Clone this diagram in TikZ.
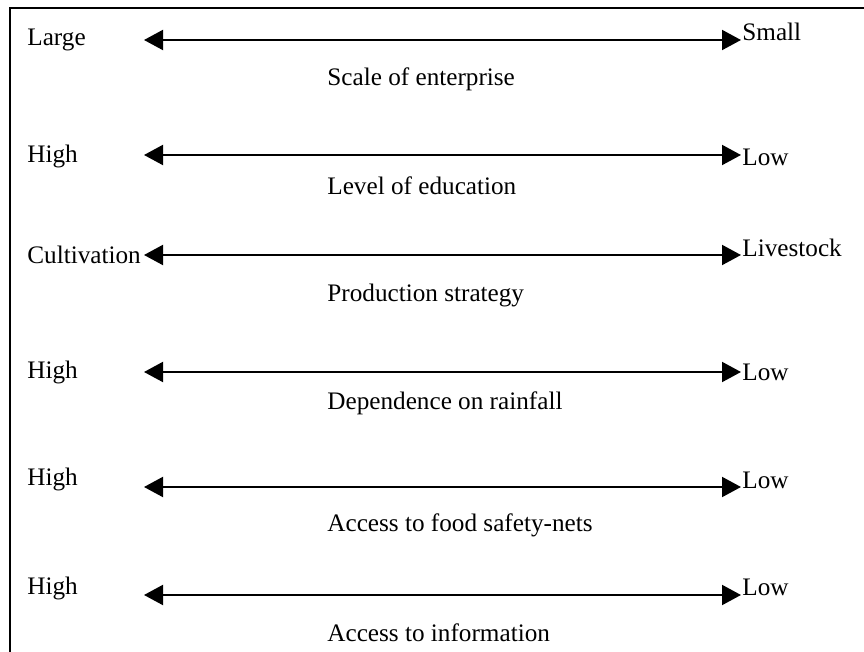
\documentclass[tikz,border=0pt]{standalone}
\usepackage{fontspec}
\setmainfont{Liberation Serif}
\usetikzlibrary{positioning,arrows.meta}

\begin{document}
\begin{tikzpicture}[x=0.5pt,y=-0.5pt]
    \tikzstyle{frame}=[line width=1.25pt]
    \tikzstyle{pole}=[inner sep=0pt,anchor=west,font=\fontsize{12.6}{15}\selectfont]
    \tikzstyle{factor}=[pole]
    \tikzstyle{edge}=[{Triangle[length=9.5pt,width=10pt]}-{Triangle[length=9.5pt,width=10pt]},line width=1pt]

    \useasboundingbox (0,0) rectangle (864,652);
    \draw[frame] (10,652) -- (10,8) -- (864,8);

    % scale of enterprise
    \node[pole] (large) at (27,40) {Large};
    \node[pole] (small) at (742,32) {Small};
    \coordinate (scaleL) at (144,40);
    \coordinate (scaleR) at (741,40);
    \draw[edge] (scaleL) -- (scaleR);
    \node[factor] (scale) at (327,79) {Scale of enterprise};

    % level of education
    \node[pole] (highEdu) at (27,156) {High};
    \node[pole] (lowEdu) at (742,157) {Low};
    \coordinate (eduL) at (144,155);
    \coordinate (eduR) at (741,155);
    \draw[edge] (eduL) -- (eduR);
    \node[factor] (education) at (327,186) {Level of education};

    % production strategy
    \node[pole] (cultivation) at (27,255) {Cultivation};
    \node[pole] (livestock) at (742,248) {Livestock};
    \coordinate (prodL) at (144,255);
    \coordinate (prodR) at (741,255);
    \draw[edge] (prodL) -- (prodR);
    \node[factor] (strategy) at (327,295) {Production strategy};

    % dependence on rainfall
    \node[pole] (highRain) at (27,372) {High};
    \node[pole] (lowRain) at (742,372) {Low};
    \coordinate (rainL) at (144,372);
    \coordinate (rainR) at (741,372);
    \draw[edge] (rainL) -- (rainR);
    \node[factor] (rainfall) at (327,403) {Dependence on rainfall};

    % food safety-nets
    \node[pole] (highNets) at (27,479) {High};
    \node[pole] (lowNets) at (742,480) {Low};
    \coordinate (netsL) at (144,487);
    \coordinate (netsR) at (741,487);
    \draw[edge] (netsL) -- (netsR);
    \node[factor] (safetynets) at (327,525) {Access to food safety-nets};

    % information
    \node[pole] (highInfo) at (27,588) {High};
    \node[pole] (lowInfo) at (742,587) {Low};
    \coordinate (infoL) at (144,595);
    \coordinate (infoR) at (741,595);
    \draw[edge] (infoL) -- (infoR);
    \node[factor] (information) at (327,633) {Access to information};
\end{tikzpicture}
\end{document}
